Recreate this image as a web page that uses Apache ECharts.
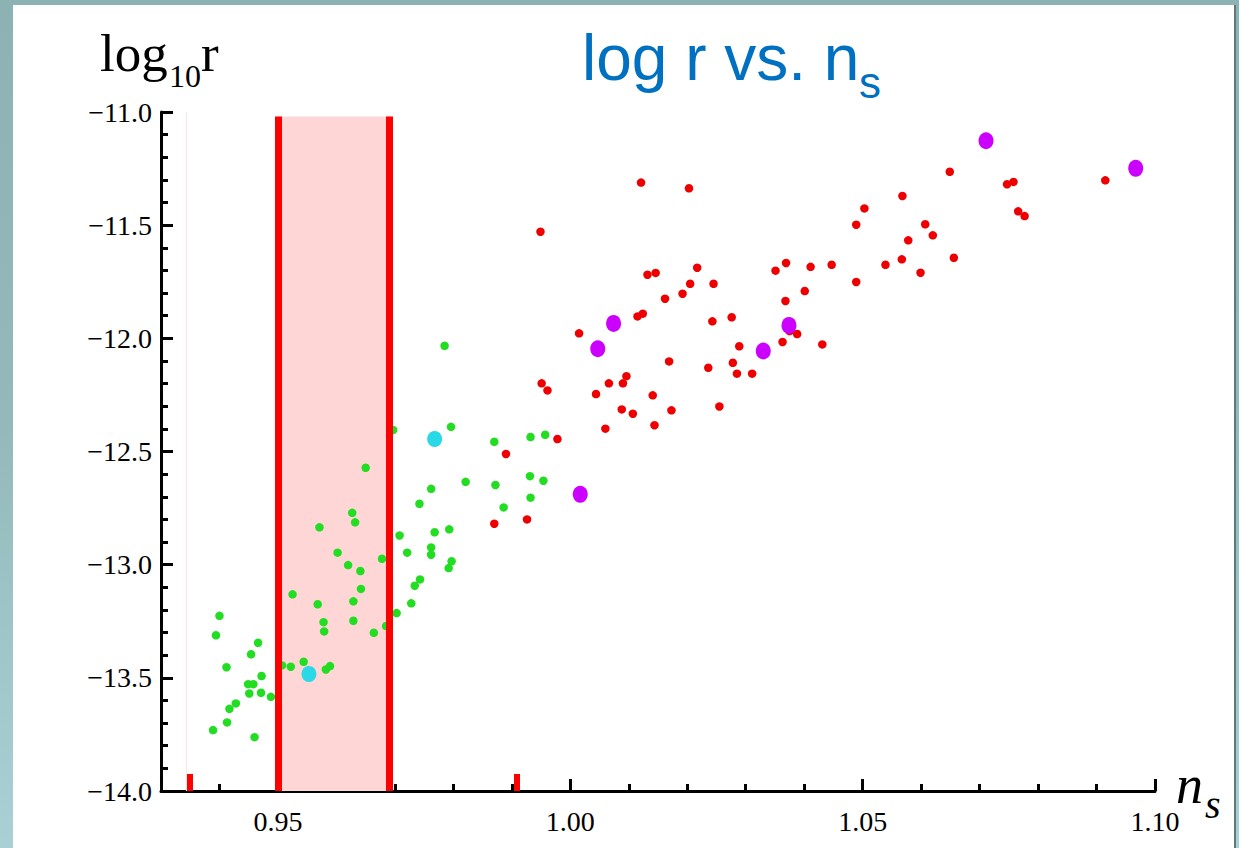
<!DOCTYPE html>
<html>
<head>
<meta charset="utf-8">
<script src="https://cdn.jsdelivr.net/npm/echarts@6/dist/echarts.min.js"></script>
<style>
html,body{margin:0;padding:0;width:1239px;height:848px;overflow:hidden;}
body{background:linear-gradient(180deg,#8db2b3 0%,#93b9ba 50%,#a9d1d5 100%);}
#panel{position:absolute;left:13px;top:5px;width:1221px;height:843px;background:#ffffff;border-right:2px solid #5f7878;}
#chart{position:absolute;left:0;top:0;width:1239px;height:848px;}
</style>
</head>
<body>
<div id="panel"></div>
<div id="chart"></div>
<script>
// ---- data (n_s, log10 r) ----
const greenPoints = [
  [0.9602,-12.947],[0.9620,-13.002],[0.9641,-13.028],[0.9678,-12.974],[0.9721,-12.947],
  [0.9642,-13.107],[0.9629,-13.162],[0.9525,-13.131],[0.9568,-13.175],[0.9578,-13.254],
  [0.9579,-13.295],[0.9629,-13.248],[0.9664,-13.301],[0.9703,-13.214],[0.9728,-13.171],
  [0.9734,-13.093],[0.9400,-13.226],[0.9394,-13.312],[0.9466,-13.345],[0.9454,-13.396],
  [0.9412,-13.453],[0.9507,-13.445],[0.9522,-13.451],[0.9544,-13.429],[0.9582,-13.463],
  [0.9589,-13.448],[0.9472,-13.492],[0.9449,-13.528],[0.9458,-13.528],[0.9451,-13.569],
  [0.9471,-13.566],[0.9488,-13.584],[0.9428,-13.613],[0.9417,-13.637],[0.9413,-13.697],
  [0.9389,-13.731],[0.9460,-13.762],[0.9785,-12.033],[0.9796,-12.391],[0.9697,-12.405],
  [0.9870,-12.457],[0.9932,-12.436],[0.9957,-12.426],[0.9821,-12.634],[0.9872,-12.648],
  [0.9931,-12.609],[0.9954,-12.629],[0.9762,-12.665],[0.9742,-12.731],[0.9932,-12.704],
  [0.9886,-12.747],[0.9708,-12.871],[0.9768,-12.857],[0.9793,-12.844],[0.9762,-12.924],
  [0.9762,-12.956],[0.9797,-12.985],[0.9792,-13.015],[0.9743,-13.065],[0.9650,-12.572],
  [0.9571,-12.835],[0.9627,-12.771],[0.9632,-12.813],[0.9685,-13.271]
];
const redPoints = [
  [1.0015,-11.978],[0.9951,-12.199],[0.9961,-12.230],[1.0044,-12.246],[1.0066,-12.199],
  [1.0090,-12.199],[1.0096,-12.167],[1.0088,-12.314],[1.0107,-12.333],[1.0060,-12.399],
  [0.9978,-12.445],[0.9870,-12.819],[0.9949,-11.529],[1.0121,-11.312],[1.0203,-11.337],
  [1.0503,-11.426],[1.0489,-11.498],[1.0132,-11.719],[1.0146,-11.711],[1.0217,-11.688],
  [1.0205,-11.759],[1.0245,-11.759],[1.0192,-11.803],[1.0162,-11.825],[1.0115,-11.903],
  [1.0124,-11.891],[1.0243,-11.925],[1.0276,-11.907],[1.0351,-11.701],[1.0369,-11.667],
  [1.0411,-11.684],[1.0447,-11.675],[1.0489,-11.751],[1.0401,-11.791],[1.0368,-11.835],
  [1.0375,-11.968],[1.0388,-11.981],[1.0363,-12.016],[1.0431,-12.027],[1.0289,-12.035],
  [1.0169,-12.102],[1.0236,-12.130],[1.0278,-12.108],[1.0285,-12.156],[1.0311,-12.156],
  [1.0141,-12.252],[1.0173,-12.318],[1.0255,-12.301],[1.0144,-12.384],[1.0649,-11.264],
  [1.0747,-11.319],[1.0758,-11.309],[1.0915,-11.302],[1.0766,-11.439],[1.0777,-11.460],
  [1.0568,-11.371],[1.0607,-11.496],[1.0620,-11.545],[1.0578,-11.567],[1.0567,-11.651],
  [1.0539,-11.675],[1.0656,-11.644],[1.0599,-11.710],[0.9890,-12.511],[0.9926,-12.800]
];
const purplePoints = [
  [1.0074,-11.934],[1.0047,-12.046],[1.0017,-12.689],[1.0374,-11.943],
  [1.0330,-12.056],[1.0711,-11.127],[1.0967,-11.249]
];
const cyanPoints = [[0.9553,-13.483],[0.9768,-12.445]];

const bandNs = [0.95, 0.969];       // shaded n_s interval
const bandTop = -11.02;
const markerNs = [0.935, 0.9909];   // short red markers on the n_s axis
const markerTop = -13.925;
const faintLineNs = 0.9344;

const xRange = [0.93, 1.10];
const xMinorStep = 0.01;
const xMajorTicks = [1.00, 1.05, 1.10];   // labelled ticks drawn longer (0.95 lies under the red line)
const xMajorTickTop = -13.947;
const yRange = [-14, -11];
const yMajorStep = 0.5;
const yMinorSplit = 5;

// ---- chart ----
const serif = "'Liberation Serif','Times New Roman',serif";
const sans = "'Liberation Sans',Arial,sans-serif";
const chart = echarts.init(document.getElementById('chart'), null, {renderer:'svg'});

function minusFmt(v, d){ return (v < 0 ? '\u2212' : '') + Math.abs(v).toFixed(d); }
function isMajorX(v){ return Math.abs(Math.round(v * 100)) % 5 === 0; }

const redLines = [
  [{coord:[bandNs[0], yRange[0]]},{coord:[bandNs[0], bandTop]}],
  [{coord:[bandNs[1], yRange[0]]},{coord:[bandNs[1], bandTop]}],
  [{coord:[faintLineNs, yRange[0]], lineStyle:{color:'#ffe2e2', width:1}},{coord:[faintLineNs, yRange[1]]}],
  [{coord:[markerNs[0], yRange[0]], lineStyle:{color:'#ff0000', width:6}},{coord:[markerNs[0], markerTop]}],
  [{coord:[markerNs[1], yRange[0]], lineStyle:{color:'#ff0000', width:6}},{coord:[markerNs[1], markerTop]}]
];
const majorTickLines = xMajorTicks.map(v => [
  {coord:[v, yRange[0]], lineStyle:{color:'#000', width:3}},{coord:[v, xMajorTickTop]}
]);

const option = {
  animation:false,
  grid:[{left:161, top:112, width:994, height:679, containLabel:false}],
  xAxis:[
    {type:'value', min:xRange[0], max:xRange[1], interval:xMinorStep, position:'bottom',
      splitLine:{show:false},
      axisLine:{show:true, onZero:false, lineStyle:{color:'#000', width:3}},
      axisTick:{show:true, inside:true, length:7, lineStyle:{color:'#000', width:3}},
      axisLabel:{show:true, margin:16, color:'#000', fontFamily:serif, fontSize:28, showMinLabel:true, showMaxLabel:true,
        formatter:v => (isMajorX(v) ? minusFmt(v, 2) : '')}
    }
  ],
  yAxis:[
    {type:'value', min:yRange[0], max:yRange[1], interval:yMajorStep, position:'left',
      splitLine:{show:false},
      axisLine:{show:true, onZero:false, lineStyle:{color:'#000', width:3}},
      axisTick:{show:true, inside:true, length:12, lineStyle:{color:'#000', width:3}},
      minorTick:{show:true, splitNumber:yMinorSplit, length:7, lineStyle:{color:'#000', width:3}},
      axisLabel:{show:true, margin:9, color:'#000', fontFamily:serif, fontSize:28,
        formatter:v => minusFmt(v, 1)}
    }
  ],
  graphic:[
    {type:'text', style:{text:'log', x:100, y:53, fontFamily:serif, fontSize:53, fill:'#000', verticalAlign:'middle', align:'left'}},
    {type:'text', style:{text:'10', x:169, y:76, fontFamily:serif, fontSize:32, fill:'#000', verticalAlign:'middle', align:'left'}},
    {type:'text', style:{text:'r', x:201, y:53, fontFamily:serif, fontSize:53, fill:'#000', verticalAlign:'middle', align:'left'}},
    {type:'text', style:{text:'log r vs. n', x:582, y:58, fontFamily:sans, fontSize:64, fill:'#0070c0', verticalAlign:'middle', align:'left'}},
    {type:'text', style:{text:'s', x:859, y:82, fontFamily:sans, fontSize:44, fill:'#0070c0', verticalAlign:'middle', align:'left'}},
    {type:'text', style:{text:'n', x:1176, y:785, fontFamily:serif, fontStyle:'italic', fontSize:54, fill:'#000', verticalAlign:'middle', align:'left'}},
    {type:'text', style:{text:'s', x:1205, y:804, fontFamily:serif, fontStyle:'italic', fontSize:40, fill:'#000', verticalAlign:'middle', align:'left'}}
  ],
  series:[
    {
      type:'scatter', data:[], z:1, silent:true,
      markArea:{silent:true, itemStyle:{color:'#ffd6d6'},
        data:[[{coord:[bandNs[0], yRange[0]]},{coord:[bandNs[1], bandTop]}]]}
    },
    {type:'scatter', data:greenPoints, symbol:'circle', symbolSize:8.5, z:2, itemStyle:{color:'#22dd22', opacity:1}},
    {type:'scatter', data:redPoints, symbol:'circle', symbolSize:8.5, z:2, itemStyle:{color:'#ee0000', opacity:1}},
    {type:'scatter', data:purplePoints, symbol:'circle', symbolSize:[15,17], z:2, itemStyle:{color:'#cc00ff', opacity:1}},
    {type:'scatter', data:cyanPoints, symbol:'circle', symbolSize:[15,16], z:2, itemStyle:{color:'#2ad9e6', opacity:1}},
    {
      type:'scatter', data:[], z:4, silent:true,
      markLine:{silent:true, symbol:['none','none'], label:{show:false},
        lineStyle:{color:'#ff0000', width:7, type:'solid'},
        data:redLines.concat(majorTickLines)}
    }
  ]
};
chart.setOption(option);
</script>
</body>
</html>
